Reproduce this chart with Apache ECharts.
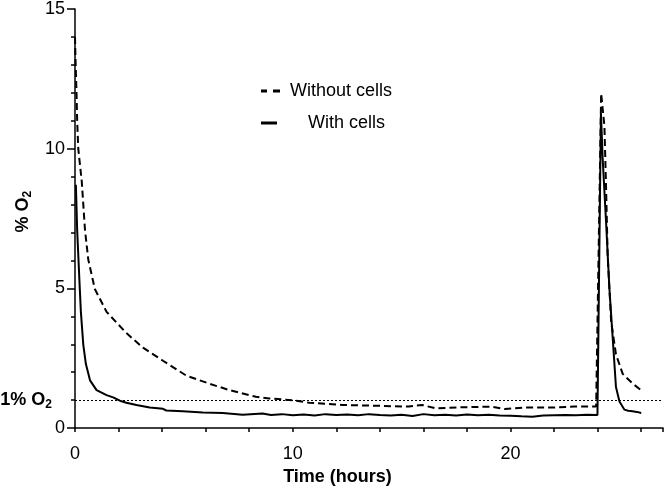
<!DOCTYPE html>
<html><head><meta charset="utf-8">
<script src="https://cdn.jsdelivr.net/npm/echarts@6/dist/echarts.min.js"></script>
<style>html,body{margin:0;padding:0;background:#fff}#c{width:666px;height:491px}</style>
</head><body><div id="c"></div>
<script>
// ---- data ----
const withoutTime = [0, 0.03, 0.07, 0.1, 0.15, 0.31, 0.46, 0.61, 0.91, 1.45, 2.36, 3.12, 4.04, 5.11, 6.17, 7.09, 8.31, 8.92, 9.98, 10.75, 12.27, 13.8, 15.32, 15.93, 16.54, 17.6, 19.1, 19.74, 20.65, 22.18, 22.94, 23.93, 24.0, 24.16, 24.31, 24.39, 24.46, 24.62, 24.84, 25.15, 25.61, 25.99];
const withoutO2   = [14.0, 13.0, 12.0, 11.0, 10.0, 8.83, 7.08, 6.03, 4.98, 4.16, 3.40, 2.88, 2.41, 1.88, 1.59, 1.36, 1.12, 1.06, 1.0, 0.91, 0.83, 0.80, 0.77, 0.83, 0.71, 0.74, 0.77, 0.68, 0.74, 0.74, 0.77, 0.77, 0.75, 11.98, 10.81, 8.48, 6.14, 3.81, 2.64, 1.94, 1.59, 1.36];
const withTime = [0.04, 0.1, 0.2, 0.27, 0.38, 0.5, 0.69, 0.99, 1.45, 1.75, 2.06, 2.36, 2.82, 3.43, 4.04, 4.19, 4.95, 5.87, 6.78, 7.7, 8.61, 9.0, 9.5, 10.0, 10.5, 11.0, 11.5, 12.0, 12.5, 13.0, 13.5, 14.0, 14.5, 15.0, 15.5, 16.0, 16.5, 17.0, 17.5, 18.0, 18.5, 19.0, 19.5, 20.0, 20.5, 21.0, 21.5, 22.0, 22.5, 23.0, 23.5, 23.99, 24.15, 24.23, 24.39, 24.54, 24.69, 24.84, 25.0, 25.23, 25.4, 25.6, 25.8, 26.0];
const withO2   = [8.71, 7.08, 5.33, 4.16, 2.99, 2.29, 1.71, 1.36, 1.18, 1.10, 0.98, 0.91, 0.83, 0.74, 0.69, 0.63, 0.60, 0.56, 0.54, 0.48, 0.52, 0.47, 0.50, 0.46, 0.49, 0.45, 0.50, 0.47, 0.49, 0.46, 0.50, 0.47, 0.45, 0.48, 0.43, 0.50, 0.46, 0.48, 0.45, 0.49, 0.46, 0.48, 0.45, 0.44, 0.42, 0.41, 0.45, 0.46, 0.47, 0.46, 0.48, 0.47, 11.28, 9.65, 7.31, 4.98, 3.23, 1.47, 0.95, 0.66, 0.62, 0.60, 0.58, 0.54];
const xTickLabels = [0, 10, 20];
const thresholdO2 = 1;
const seriesNames = ['Without cells', 'With cells'];

const FONT = "'Liberation Sans', Arial, sans-serif";
const zip = (a, b) => a.map((v, i) => [v, b[i]]);
const richSub = {
  a: {fontSize: 18, fontWeight: 'bold', fontFamily: FONT, color: '#000', lineHeight: 22},
  s: {fontSize: 12, fontWeight: 'bold', fontFamily: FONT, color: '#000', lineHeight: 12, verticalAlign: 'bottom'}
};

const chart = echarts.init(document.getElementById('c'));
chart.setOption({
  animation: false,
  backgroundColor: '#fff',
  textStyle: {fontFamily: FONT},
  grid: {left: 75, right: 0, top: 7, bottom: 56, containLabel: false},
  legend: [
    {
      data: [{name: seriesNames[0], icon: 'path://M0 0H6V3H0Z M12 0H19V3H12Z'}],
      left: 261, top: 82, padding: 0, itemWidth: 19, itemHeight: 3,
      textStyle: {fontSize: 18, fontFamily: FONT, color: '#000', lineHeight: 18, padding: [0, 0, 0, 5]}
    },
    {
      data: [{name: seriesNames[1], icon: 'rect'}],
      left: 261, top: 114, padding: 0, itemWidth: 16, itemHeight: 3,
      textStyle: {fontSize: 18, fontFamily: FONT, color: '#000', lineHeight: 18, padding: [0, 0, 0, 26]}
    }
  ],
  xAxis: {
    type: 'value', min: 0, max: 27, interval: 2,
    name: 'Time (hours)', nameLocation: 'middle', nameGap: 34,
    nameTextStyle: {fontSize: 18, fontWeight: 'bold', fontFamily: FONT, color: '#000', padding: [0, 63, 0, 0]},
    axisLine: {show: true, onZero: false, lineStyle: {color: '#000', width: 1.5}},
    axisTick: {show: true, length: 4, lineStyle: {color: '#000', width: 1.5}},
    axisLabel: {fontSize: 18, fontFamily: FONT, color: '#000', margin: 17,
      formatter: v => xTickLabels.includes(v) ? String(v) : ''},
    splitLine: {show: false}
  },
  yAxis: {
    type: 'value', min: 0, max: 15, interval: 5,
    name: '{a|% O}{s|2}', nameLocation: 'middle', nameGap: 31, nameRotate: 90,
    nameTextStyle: {rich: richSub, padding: [0, 0, 0, 14]},
    axisLine: {show: true, lineStyle: {color: '#000', width: 1.5}},
    axisTick: {show: true, length: 8, lineStyle: {color: '#000', width: 1.5}},
    minorTick: {show: true, splitNumber: 5, length: 4, lineStyle: {color: '#000', width: 1.5}},
    axisLabel: {fontSize: 18, fontFamily: FONT, color: '#000', margin: 10},
    splitLine: {show: false}
  },
  series: [
    {
      name: seriesNames[0], type: 'line', symbol: 'none', showSymbol: false,
      data: zip(withoutTime, withoutO2),
      itemStyle: {color: '#000'},
      lineStyle: {color: '#000', width: 2, type: [7, 4]},
      markLine: {
        silent: true, symbol: 'none', animation: false,
        lineStyle: {color: '#000', width: 1, type: [2, 2]},
        label: {show: true, position: 'start', distance: 23, formatter: '{a|1% O}{s|2}', rich: richSub},
        data: [{yAxis: thresholdO2}]
      }
    },
    {
      name: seriesNames[1], type: 'line', symbol: 'none', showSymbol: false,
      data: zip(withTime, withO2),
      itemStyle: {color: '#000'},
      lineStyle: {color: '#000', width: 2}
    }
  ]
});
</script>
</body></html>
